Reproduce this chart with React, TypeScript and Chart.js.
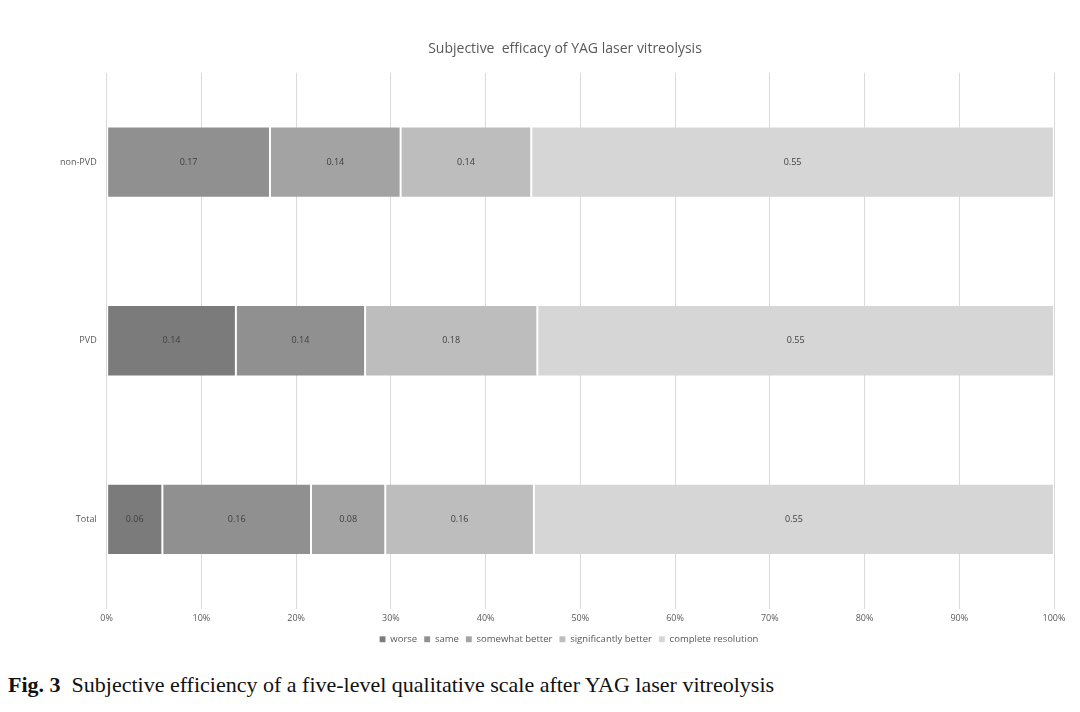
import React, { useEffect, useRef } from "react";
import { Chart, registerables } from "chart.js";

Chart.register(...registerables);

const categories = ["non-PVD", "PVD", "Total"];
const seriesNames = ["worse", "same", "somewhat better", "significantly better", "complete resolution"];
const worse = [0, 0.1364, 0.0588];
const same = [0.1724, 0.1364, 0.1569];
const somewhatBetter = [0.1379, 0, 0.0784];
const significantlyBetter = [0.1379, 0.1818, 0.1569];
const completeResolution = [0.5517, 0.5455, 0.549];
const seriesColors = ["#7b7b7b", "#909090", "#a3a3a3", "#bdbdbd", "#d6d6d6"];
const xTicks = ["0%", "10%", "20%", "30%", "40%", "50%", "60%", "70%", "80%", "90%", "100%"];

const FONT = "'Open Sans', 'Liberation Sans', sans-serif";

const labelPlugin = {
  id: "segLabels",
  afterLayout(chart: any) {
    if (chart.legend) {
      chart.legend.left += 13;
      chart.legend.right += 13;
    }
    if (chart.titleBlock) {
      chart.titleBlock.left += 9;
      chart.titleBlock.right += 9;
    }
  },
  afterDatasetsDraw(chart: any) {
    const ctx = chart.ctx;
    ctx.save();
    ctx.font = `9px ${FONT}`;
    ctx.fillStyle = "#404040";
    ctx.textAlign = "center";
    ctx.textBaseline = "middle";
    chart.data.datasets.forEach((ds: any, di: number) => {
      const meta = chart.getDatasetMeta(di);
      meta.data.forEach((bar: any, i: number) => {
        const v = ds.data[i];
        if (!v) return;
        const cx = (bar.x + bar.base) / 2;
        ctx.fillText(v.toFixed(2), cx, bar.y);
      });
    });
    ctx.restore();
  },
};

export default function App() {
  const ref = useRef<HTMLCanvasElement>(null);
  useEffect(() => {
    const all = [worse, same, somewhatBetter, significantlyBetter, completeResolution];
    const chart = new Chart(ref.current!, {
      type: "bar",
      data: {
        labels: categories,
        datasets: all.map((d, i) => ({
          label: seriesNames[i],
          data: d,
          backgroundColor: seriesColors[i],
          borderColor: "rgba(255,255,255,0.15)",
          borderWidth: 1,
          borderSkipped: false,
          barPercentage: 1,
          categoryPercentage: 0.4,
        })),
      },
      options: {
        indexAxis: "y",
        animation: false,
        responsive: true,
        maintainAspectRatio: false,
        layout: { padding: { left: 50, right: 18, top: 0, bottom: 14 } },
        scales: {
          x: {
            stacked: true,
            min: 0,
            max: 1,
            border: { display: false },
            grid: { color: "#d9d9d9", drawTicks: false },
            ticks: {
              stepSize: 0.1,
              padding: 4,
              color: "#595959",
              font: { size: 9, family: FONT },
              callback: (_v: any, i: number) => xTicks[i],
            },
          },
          y: {
            stacked: true,
            border: { display: false },
            grid: { display: false },
            ticks: { color: "#595959", padding: 2, font: { size: 9, family: FONT } },
          },
        },
        plugins: {
          title: {
            display: true,
            text: "Subjective  efficacy of YAG laser vitreolysis",
            color: "#595959",
            font: { size: 14, weight: "normal", family: FONT },
            padding: { top: 33, bottom: 15 },
          },
          legend: {
            position: "bottom",
            labels: {
              boxWidth: 6,
              boxHeight: 6,
              padding: 7,
              color: "#595959",
              font: { size: 9.5, family: FONT },
            },
          },
          tooltip: { enabled: false },
        },
      },
      plugins: [labelPlugin],
    });
    return () => chart.destroy();
  }, []);
  return (
    <div>
      <div style={{ position: "relative", width: 1064, height: 660 }}>
        <canvas ref={ref} />
      </div>
      <div
        style={{
          marginTop: 4,
          fontFamily: "'Liberation Serif', 'DejaVu Serif', serif",
          fontSize: 22,
          color: "#111",
        }}
      >
        <b>Fig. 3</b>&nbsp; Subjective efficiency of a five-level qualitative scale after YAG laser vitreolysis
      </div>
    </div>
  );
}
